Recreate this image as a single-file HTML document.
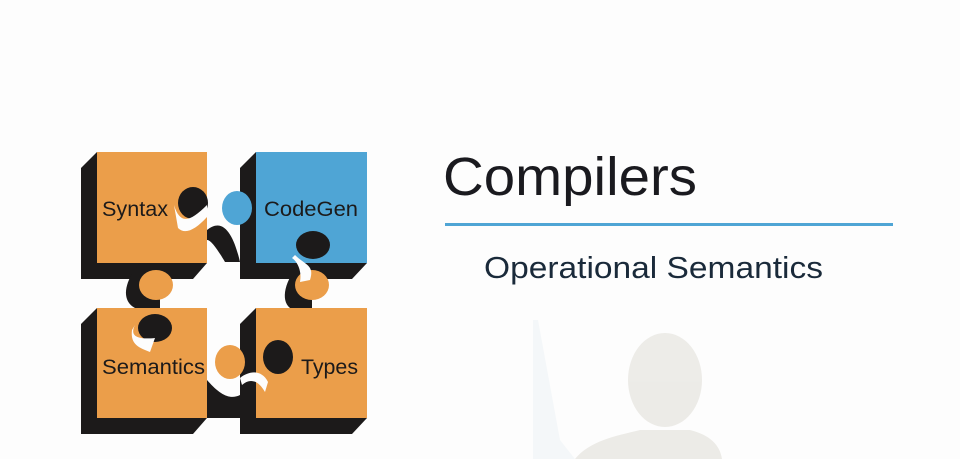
<!DOCTYPE html>
<html><head><meta charset="utf-8"><style>
html,body{margin:0;padding:0;background:#fdfdfd;}
svg{display:block}
</style></head><body>
<svg width="960" height="459" viewBox="0 0 960 459" xmlns="http://www.w3.org/2000/svg">
<rect width="960" height="459" fill="#fdfdfd"/>
<!-- shadows -->
<g fill="#1c1a1a">
<polygon points="97,152 81,168 81,279 193,279 207,263 97,263"/>
<polygon points="256,152 240,168 240,279 352,279 367,263 256,263"/>
<polygon points="97,308 81,324 81,434 193,434 207,418 97,418"/>
<polygon points="256,308 240,324 240,434 352,434 367,418 256,418"/>
<path d="M207,230 C225,215 235,240 240,262 L225,262 C215,245 210,240 207,240 Z"/>
<path d="M140,263 C125,280 120,300 135,308 L160,308 L160,263 Z"/>
<path d="M300,263 C285,280 280,300 290,308 L312,308 L312,263 Z"/>
<path d="M207,380 C220,395 230,400 240,395 L240,418 L207,418 Z"/>
</g>
<!-- pieces -->
<rect x="97" y="152" width="110" height="111" fill="#eb9e4a"/>
<rect x="256" y="152" width="111" height="111" fill="#4fa5d5"/>
<rect x="97" y="308" width="110" height="110" fill="#eb9e4a"/>
<rect x="256" y="308" width="111" height="110" fill="#eb9e4a"/>
<!-- knobs -->
<ellipse cx="237" cy="208" rx="15" ry="17" fill="#4fa5d5"/>
<ellipse cx="156" cy="285" rx="17" ry="15" fill="#eb9e4a"/>
<ellipse cx="312" cy="285" rx="17" ry="15" fill="#eb9e4a"/>
<ellipse cx="230" cy="362" rx="15" ry="17" fill="#eb9e4a"/>
<!-- holes -->
<g fill="#1c1a1a">
<ellipse cx="193" cy="203" rx="15" ry="16"/>
<ellipse cx="313" cy="245" rx="17" ry="14"/>
<ellipse cx="155" cy="328" rx="17" ry="14"/>
<ellipse cx="278" cy="357" rx="15" ry="17"/>
</g>
<g fill="#fdfdfd">
<path d="M174,205 C180,225 190,222 207,205 L207,217 C195,230 185,235 178,228 Z"/>
<path d="M295,255 C305,265 315,265 310,280 L300,282 C302,272 298,262 292,258 Z"/>
<path d="M135,325 C130,335 135,340 155,338 L150,352 C140,348 130,345 132,330 Z"/>
<path d="M240,378 C250,370 262,370 268,382 L265,392 C258,380 250,378 242,385 Z"/>
</g>
<g font-family="Liberation Sans, sans-serif" font-size="21" fill="#1c1a1a">
<text x="102" y="216" textLength="66" lengthAdjust="spacingAndGlyphs">Syntax</text>
<text x="264" y="216" textLength="94" lengthAdjust="spacingAndGlyphs">CodeGen</text>
<text x="102" y="374" textLength="103" lengthAdjust="spacingAndGlyphs">Semantics</text>
<text x="301" y="374" textLength="57" lengthAdjust="spacingAndGlyphs">Types</text>
</g>
<!-- silhouette -->
<g fill="#e6e4de" opacity="0.7">
<ellipse cx="665" cy="380" rx="37" ry="47"/>
<path d="M575,459 C590,440 620,435 640,430 L690,430 C710,435 720,445 722,459 Z"/>
</g>
<path d="M533,320 L538,320 L560,440 L575,459 L533,459 Z" fill="#eef3f6" opacity="0.6"/>
<text x="443" y="195" font-family="Liberation Sans, sans-serif" font-size="54" fill="#1a1a1f" textLength="254" lengthAdjust="spacingAndGlyphs">Compilers</text>
<rect x="445" y="223" width="448" height="3" fill="#4fa5d5"/>
<text x="484" y="278" font-family="Liberation Sans, sans-serif" font-size="31" fill="#1a2a3a" textLength="339" lengthAdjust="spacingAndGlyphs">Operational Semantics</text>
</svg>
</body></html>
